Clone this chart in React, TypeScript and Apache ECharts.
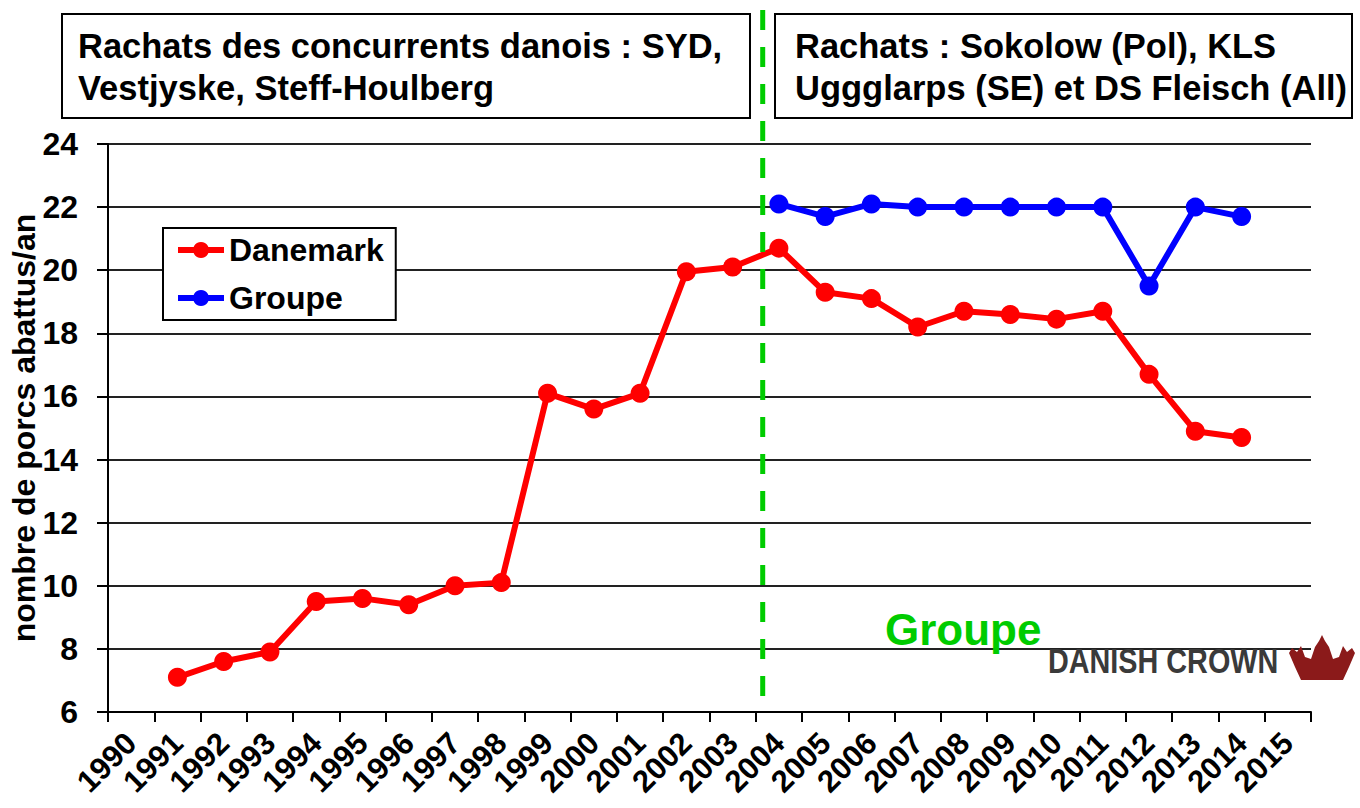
import React, { useEffect, useRef } from "react";
import * as echarts from "echarts";

const years = ["1990","1991","1992","1993","1994","1995","1996","1997","1998","1999","2000","2001","2002","2003","2004","2005","2006","2007","2008","2009","2010","2011","2012","2013","2014","2015"];
const danemark = [null, 7.1, 7.6, 7.9, 9.5, 9.6, 9.4, 10.0, 10.1, 16.1, 15.6, 16.1, 19.95, 20.1, 20.7, 19.3, 19.1, 18.2, 18.7, 18.6, 18.45, 18.7, 16.7, 14.9, 14.7, null];
const groupe = [null, null, null, null, null, null, null, null, null, null, null, null, null, null, 22.1, 21.7, 22.1, 22.0, 22.0, 22.0, 22.0, 22.0, 19.5, 22.0, 21.7, null];
const yTicks = { min: 6, max: 24, interval: 2 };
const titleLeft = ["Rachats des concurrents danois : SYD,", "Vestjyske, Steff-Houlberg"];
const titleRight = ["Rachats : Sokolow (Pol), KLS", "Uggglarps (SE) et DS Fleisch (All)"];

const FONT = "'Liberation Sans', Arial, sans-serif";

export default function App() {
  const ref = useRef<HTMLDivElement>(null);
  useEffect(() => {
    if (!ref.current) return;
    const chart = echarts.init(ref.current, null, { renderer: "svg" });
    const base: any = {
      animation: false,
      backgroundColor: "#fff",
      textStyle: { fontFamily: FONT, fontWeight: "bold", color: "#000" },
      grid: { left: 108, right: 49, top: 144, bottom: 96, containLabel: false, outerBoundsMode: "none" },
      legend: {
        left: 163, top: 228, orient: "vertical",
        borderColor: "#000", borderWidth: 2, padding: [6, 12, 6, 12],
        backgroundColor: "#fff", itemGap: 16, itemWidth: 46, itemHeight: 20,
        lineStyle: { width: 6 },
        textStyle: { fontFamily: FONT, fontWeight: "bold", fontSize: 32, color: "#000" },
        data: ["Danemark", "Groupe"],
      },
      xAxis: {
        type: "category", data: years, boundaryGap: true,
        axisLine: { lineStyle: { color: "#000", width: 2 } },
        axisTick: { show: true, length: 10, lineStyle: { color: "#000", width: 2 } },
        axisLabel: { interval: 0, rotate: 45, margin: 26, fontFamily: FONT, fontWeight: "bold", fontSize: 31, color: "#000" },
        splitLine: { show: false },
      },
      yAxis: {
        type: "value", min: yTicks.min, max: yTicks.max, interval: yTicks.interval,
        name: "nombre de porcs abattus/an", nameLocation: "middle", nameGap: 68, nameRotate: 90,
        nameMoveOverlap: false,
        nameTextStyle: { fontFamily: FONT, fontWeight: "bold", fontSize: 32, color: "#000" },
        axisLine: { show: true, lineStyle: { color: "#000", width: 2 } },
        axisTick: { show: true, inside: false, length: 11, lineStyle: { color: "#000", width: 2 } },
        axisLabel: { margin: 30, fontFamily: FONT, fontWeight: "bold", fontSize: 32, color: "#000" },
        splitLine: { show: true, lineStyle: { color: "#222", width: 2 } },
      },
      series: [
        {
          name: "Danemark", type: "line", data: danemark, connectNulls: false,
          symbol: "circle", symbolSize: 19,
          itemStyle: { color: "#ff0000" }, lineStyle: { color: "#ff0000", width: 6 },
        },
        {
          name: "Groupe", type: "line", data: groupe,
          symbol: "circle", symbolSize: 19,
          itemStyle: { color: "#0000ff" }, lineStyle: { color: "#0000ff", width: 6 },
        },
      ],
    };
    chart.setOption(base);

    const p2003 = chart.convertToPixel({ xAxisIndex: 0 }, "2003") as number;
    const p2004 = chart.convertToPixel({ xAxisIndex: 0 }, "2004") as number;
    const dashX = p2003 + (p2004 - p2003) * 0.65;

    const crown = [
      [12, 45], [6, 32], [0, 18], [3, 13], [8, 17], [12, 11], [16, 22], [22, 24], [26, 12],
      [30, 6], [33, 0], [36, 6], [40, 12], [44, 24], [50, 22], [54, 11], [58, 17], [63, 13],
      [66, 18], [60, 32], [54, 45],
    ];

    chart.setOption({
      graphic: [
        {
          type: "line", z: 10,
          shape: { x1: dashX, y1: 10, x2: dashX, y2: 712 },
          style: { stroke: "#00cc00", lineWidth: 5, lineDash: [20, 17] },
        },
        {
          type: "rect", shape: { x: 62, y: 14, width: 688, height: 104 },
          style: { fill: "#fff", stroke: "#000", lineWidth: 2 },
        },
        {
          type: "text", x: 78, y: 25,
          style: { text: titleLeft.join("\n"), fontFamily: FONT, fontWeight: "bold", fontSize: 34.5, lineHeight: 42, fill: "#000" },
        },
        {
          type: "rect", shape: { x: 775, y: 14, width: 577, height: 104 },
          style: { fill: "#fff", stroke: "#000", lineWidth: 2 },
        },
        {
          type: "text", x: 795, y: 25,
          style: { text: titleRight.join("\n"), fontFamily: FONT, fontWeight: "bold", fontSize: 34.5, lineHeight: 42, fill: "#000" },
        },
        {
          type: "text", x: 885, y: 607,
          style: { text: "Groupe", fontFamily: FONT, fontWeight: "bold", fontSize: 44, fill: "#00cc00" },
        },
        {
          type: "text", x: 1048, y: 642, scaleX: 0.8,
          style: { text: "DANISH CROWN", fontFamily: FONT, fontWeight: "bold", fontSize: 36, fill: "#3a3a3a" },
        },
        {
          type: "polygon", x: 1289, y: 635,
          shape: { points: crown },
          style: { fill: "#8b1a1a" },
        },
      ],
    });
    return () => chart.dispose();
  }, []);
  return <div ref={ref} style={{ position: "fixed", left: 0, top: 0, width: 1360, height: 808 }} />;
}
